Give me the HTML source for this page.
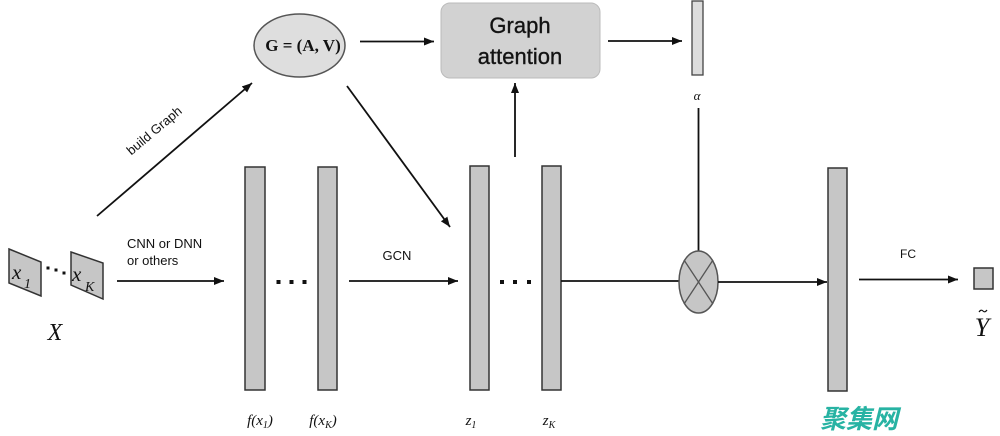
<!DOCTYPE html>
<html><head><meta charset="utf-8">
<style>
html,body{margin:0;padding:0;background:#fff;}
svg{display:block;}
.s{font-family:"Liberation Sans",sans-serif;fill:#111;}
.m{font-family:"Liberation Serif",serif;font-style:italic;fill:#111;}
</style></head>
<body>
<svg width="1000" height="436" viewBox="0 0 1000 436" xmlns="http://www.w3.org/2000/svg">
<defs>
<marker id="ah" markerWidth="10" markerHeight="8" refX="10" refY="4" orient="auto" markerUnits="userSpaceOnUse">
<path d="M0,0 L10,4 L0,8 Z" fill="#111"/>
</marker>
</defs>

<!-- input parallelograms -->
<polygon points="9,249 41,262 41,296 9,283" fill="#c6c6c6" stroke="#333" stroke-width="1.5"/>
<polygon points="71,252 103,263 103,299 71,285" fill="#c6c6c6" stroke="#333" stroke-width="1.5"/>
<text class="m" x="12" y="279" font-size="21">x</text>
<text class="m" x="24" y="288" font-size="14" font-style="normal">1</text>
<text class="m" x="72" y="281" font-size="21">x</text>
<text class="m" x="85" y="291" font-size="14">K</text>
<rect x="46.5" y="266.5" width="3" height="3" fill="#111"/>
<rect x="54.5" y="268.5" width="3" height="3" fill="#111"/>
<rect x="62.5" y="271.5" width="3" height="3" fill="#111"/>
<text class="m" x="55" y="340" font-size="24" text-anchor="middle">X</text>

<!-- CNN arrow -->
<text class="s" x="127" y="248" font-size="13">CNN or DNN</text>
<text class="s" x="127" y="265" font-size="13">or others</text>
<line x1="117" y1="281" x2="224" y2="281" stroke="#111" stroke-width="1.8" marker-end="url(#ah)"/>

<!-- build graph arrow -->
<line x1="97" y1="216" x2="252" y2="83" stroke="#111" stroke-width="1.8" marker-end="url(#ah)"/>
<text class="s" x="157" y="134" font-size="13" text-anchor="middle" transform="rotate(-40 157 134)">build Graph</text>

<!-- f bars -->
<rect x="245" y="167" width="20" height="223" fill="#c6c6c6" stroke="#333" stroke-width="1.5"/>
<rect x="318" y="167" width="19" height="223" fill="#c6c6c6" stroke="#333" stroke-width="1.5"/>
<rect x="276.5" y="280" width="4" height="4" fill="#111"/>
<rect x="289.5" y="280" width="4" height="4" fill="#111"/>
<rect x="302.5" y="280" width="4" height="4" fill="#111"/>
<text class="m" x="260" y="425" font-size="15" text-anchor="middle">f(x<tspan font-size="10" dy="3">1</tspan><tspan dy="-3">)</tspan></text>
<text class="m" x="323" y="425" font-size="15" text-anchor="middle">f(x<tspan font-size="10" dy="3">K</tspan><tspan dy="-3">)</tspan></text>

<!-- GCN -->
<text class="s" x="397" y="260" font-size="13" text-anchor="middle">GCN</text>
<line x1="349" y1="281" x2="458" y2="281" stroke="#111" stroke-width="1.8" marker-end="url(#ah)"/>

<!-- G ellipse -->
<ellipse cx="299.5" cy="45.5" rx="45.5" ry="31.5" fill="#dedede" stroke="#555" stroke-width="1.5"/>
<text x="303" y="51" font-size="17" font-weight="bold" font-family="Liberation Serif,serif" fill="#111" text-anchor="middle">G = (A, V)</text>
<line x1="347" y1="86" x2="450" y2="227" stroke="#111" stroke-width="1.8" marker-end="url(#ah)"/>
<line x1="360" y1="41.5" x2="434" y2="41.5" stroke="#111" stroke-width="1.8" marker-end="url(#ah)"/>

<!-- Graph attention box -->
<rect x="441" y="3" width="159" height="75" rx="9" ry="9" fill="#d2d2d2" stroke="#bbb" stroke-width="1"/>
<text class="s" x="520" y="33" font-size="22" text-anchor="middle" fill="#222" stroke="#222" stroke-width="0.4">Graph</text>
<text class="s" x="520" y="64" font-size="22" text-anchor="middle" fill="#222" stroke="#222" stroke-width="0.4">attention</text>
<line x1="515" y1="157" x2="515" y2="83" stroke="#111" stroke-width="1.8" marker-end="url(#ah)"/>
<line x1="608" y1="41" x2="682" y2="41" stroke="#111" stroke-width="1.8" marker-end="url(#ah)"/>

<!-- z bars -->
<rect x="470" y="166" width="19" height="224" fill="#c6c6c6" stroke="#333" stroke-width="1.5"/>
<rect x="542" y="166" width="19" height="224" fill="#c6c6c6" stroke="#333" stroke-width="1.5"/>
<rect x="500" y="280" width="4" height="4" fill="#111"/>
<rect x="513" y="280" width="4" height="4" fill="#111"/>
<rect x="527" y="280" width="4" height="4" fill="#111"/>
<text class="m" x="471" y="425" font-size="15" text-anchor="middle">z<tspan font-size="10" dy="3">1</tspan></text>
<text class="m" x="549" y="425" font-size="15" text-anchor="middle">z<tspan font-size="10" dy="3">K</tspan></text>

<!-- alpha bar -->
<rect x="692" y="1" width="11" height="74" fill="#dcdcdc" stroke="#444" stroke-width="1.3"/>
<text class="m" x="697" y="100" font-size="13" text-anchor="middle">α</text>
<line x1="698.5" y1="108" x2="698.5" y2="251" stroke="#111" stroke-width="1.8"/>

<!-- multiply -->
<line x1="561" y1="281" x2="679" y2="281" stroke="#111" stroke-width="1.8"/>
<ellipse cx="698.5" cy="282" rx="19.5" ry="31" fill="#c6c6c6" stroke="#555" stroke-width="1.5"/>
<line x1="684" y1="260" x2="713" y2="304" stroke="#555" stroke-width="1.3"/>
<line x1="713" y1="260" x2="684" y2="304" stroke="#555" stroke-width="1.3"/>
<line x1="718" y1="282" x2="827" y2="282" stroke="#111" stroke-width="1.8" marker-end="url(#ah)"/>

<!-- final bar -->
<rect x="828" y="168" width="19" height="223" fill="#c6c6c6" stroke="#333" stroke-width="1.5"/>

<!-- FC -->
<text class="s" x="908" y="258" font-size="12" text-anchor="middle">FC</text>
<line x1="859" y1="279.5" x2="958" y2="279.5" stroke="#111" stroke-width="1.8" marker-end="url(#ah)"/>
<rect x="974" y="268" width="19" height="21" fill="#c6c6c6" stroke="#333" stroke-width="1.5"/>
<text class="m" x="982" y="336" font-size="26" text-anchor="middle">Y</text>
<path d="M979,312 q2,-3 4,-1 q2,2 4,-1" fill="none" stroke="#111" stroke-width="1.2"/>

<!-- watermark -->
<text x="820" y="428" font-size="26" font-weight="bold" font-style="italic" font-family="Liberation Sans,'Noto Sans CJK SC',sans-serif" fill="#27b3a3">聚集网</text>
</svg>
</body></html>
